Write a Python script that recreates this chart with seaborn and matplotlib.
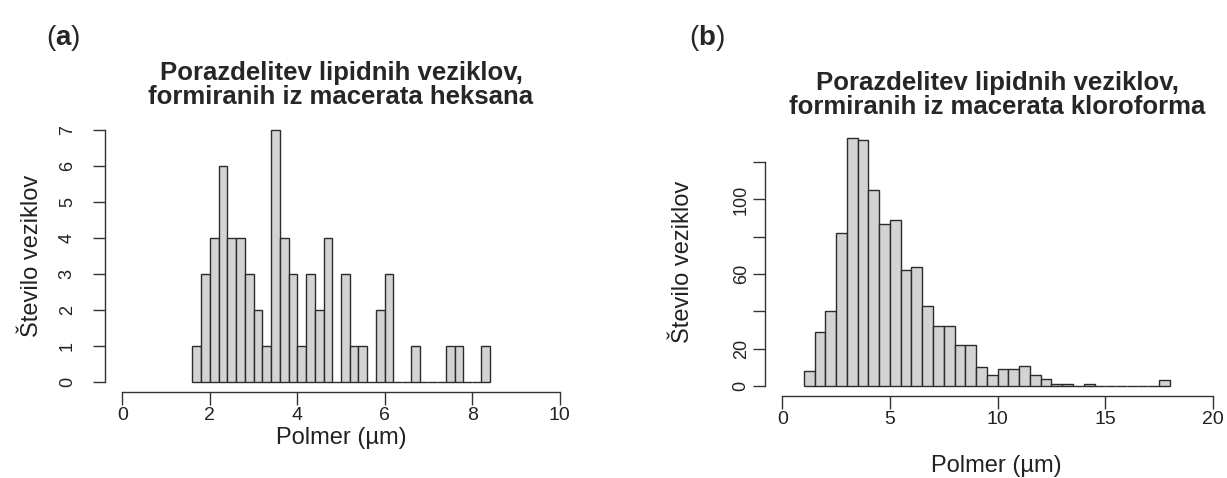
import numpy as np
import pandas as pd
import seaborn as sns
import matplotlib.pyplot as plt

# (a) hexane macerate, bins of 0.2 um
hex_bins = [1.6, 1.8, 2.0, 2.2, 2.4, 2.6, 2.8, 3.0, 3.2, 3.4, 3.6, 3.8, 4.0, 4.2, 4.4, 4.6, 4.8,
            5.0, 5.2, 5.4, 5.6, 5.8, 6.0, 6.2, 6.4, 6.6, 6.8, 7.0, 7.2, 7.4, 7.6, 7.8, 8.0, 8.2]
hex_counts = [1, 3, 4, 6, 4, 4, 3, 2, 1, 7, 4, 3, 1, 3, 2, 4, 0,
              3, 1, 1, 0, 2, 3, 0, 0, 1, 0, 0, 0, 1, 1, 0, 0, 1]
hex_width = 0.2

# (b) chloroform macerate, bins of 0.5 um
chl_bins = [1.0, 1.5, 2.0, 2.5, 3.0, 3.5, 4.0, 4.5, 5.0, 5.5, 6.0, 6.5, 7.0, 7.5, 8.0, 8.5, 9.0,
            9.5, 10.0, 10.5, 11.0, 11.5, 12.0, 12.5, 13.0, 13.5, 14.0, 14.5, 15.0, 15.5, 16.0, 16.5, 17.0, 17.5]
chl_counts = [8, 29, 40, 82, 133, 132, 105, 87, 89, 62, 64, 43, 32, 32, 22, 22, 10,
              6, 9, 9, 11, 6, 4, 1, 1, 0, 1, 0, 0, 0, 0, 0, 0, 3]
chl_width = 0.5

titles = ["Porazdelitev lipidnih veziklov,\nformiranih iz macerata heksana",
          "Porazdelitev lipidnih veziklov,\nformiranih iz macerata kloroforma"]
xlabel = "Polmer (µm)"
ylabel = "Število veziklov"

sns.set_style("white")
plt.rcParams['font.family'] = ['Liberation Sans', 'DejaVu Sans']
plt.rcParams['mathtext.fontset'] = 'custom'
plt.rcParams['mathtext.rm'] = 'Liberation Sans'
plt.rcParams['mathtext.bf'] = 'Liberation Sans:bold'

W, H = 1227, 478
fig = plt.figure(figsize=(W / 100, H / 100), dpi=100)


def box(l, t, r, b):
    return [l / W, 1 - b / H, (r - l) / W, (b - t) / H]


ax1 = fig.add_axes(box(105, 120, 577, 392))
ax2 = fig.add_axes(box(765, 128, 1227, 396))

panels = [
    (ax1, hex_bins, hex_counts, hex_width, (-0.4, 10.4), (-0.28, 7.28),
     [0, 2, 4, 6, 8, 10], [0, 1, 2, 3, 4, 5, 6, 7], None, 12, (-0.155, 0.5), (0.5, -0.17)),
    (ax2, chl_bins, chl_counts, chl_width, (-0.8, 20.65), (-5.32, 138.32),
     [0, 5, 10, 15, 20], [0, 20, 40, 60, 80, 100, 120], ["0", "20", "", "60", "", "100", ""], 2,
     (-0.178, 0.5), (0.5, -0.26)),
]

for ax, bins, counts, width, xl, yl, xt, yt, ytl, ypad, ylc, xlc in panels:
    df = pd.DataFrame({"start": bins, "n": counts})
    df["mid"] = df["start"] + width / 2
    edges = list(df["start"]) + [df["start"].iloc[-1] + width]
    sns.histplot(data=df, x="mid", weights="n", bins=edges, color="#d3d3d3",
                 edgecolor="#2b2b2b", linewidth=1.0, alpha=1, ax=ax)
    ax.set_xlim(*xl)
    ax.set_ylim(*yl)
    ax.set_xticks(xt)
    ax.set_yticks(yt)
    if ytl is not None:
        ax.set_yticklabels(ytl)
    for lab in ax.get_yticklabels():
        lab.set_rotation(90)
        lab.set_va("center")
    ax.spines["top"].set_visible(False)
    ax.spines["right"].set_visible(False)
    ax.spines["left"].set_bounds(yt[0], yt[-1])
    ax.spines["bottom"].set_bounds(xt[0], xt[-1])
    for s in ("left", "bottom"):
        ax.spines[s].set_color("#333333")
        ax.spines[s].set_linewidth(1.0)
    ax.tick_params(axis="both", direction="out", length=9, width=1.0, color="#333333",
                   left=True, bottom=True, labelcolor="#222222")
    ax.tick_params(axis="x", labelsize=14, pad=2)
    ax.tick_params(axis="y", labelsize=13, pad=ypad)
    ax.set_xlabel(xlabel, fontsize=17, color="#222222", va="center")
    ax.set_ylabel(ylabel, fontsize=17, color="#222222", va="center")
    ax.xaxis.set_label_coords(*xlc)
    ax.yaxis.set_label_coords(*ylc)

fig.text(341 / W, 1 - 85 / H, titles[0], fontsize=18.5, fontweight="bold",
         ha="center", va="center", linespacing=1.0)
fig.text(997 / W, 1 - 95 / H, titles[1], fontsize=18.5, fontweight="bold",
         ha="center", va="center", linespacing=1.0)

fig.text(46 / W, 1 - 38 / H, r"($\mathbf{a}$)", fontsize=20, va="center", ha="left")
fig.text(689 / W, 1 - 38 / H, r"($\mathbf{b}$)", fontsize=20, va="center", ha="left")

fig.savefig("out.png", dpi=100)
